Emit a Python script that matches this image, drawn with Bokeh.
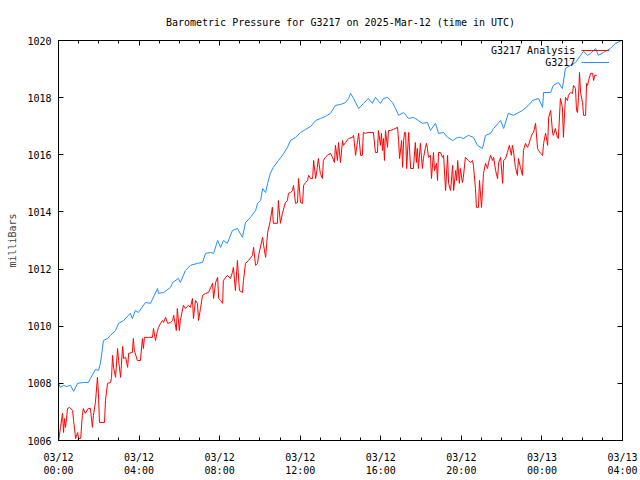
from bokeh.plotting import figure
from bokeh.models import LinearAxis, FixedTicker, Legend, LegendItem, Range1d
from bokeh.embed import file_html
from bokeh.resources import INLINE

FONT = "DejaVu Sans Mono"

# minutes since 2025-03-12 00:00 UTC, pressure in milliBars
blue_min = [0, 6, 15, 24, 36, 45, 57, 74, 89, 95,
            104, 110, 119, 125, 134, 146, 155, 170, 179, 194,
            214, 220, 229, 238, 259, 274, 295, 298, 313, 334,
            340, 357, 363, 378, 393, 414, 429, 438, 453, 462,
            474, 483, 491, 503, 518, 533, 548, 557, 572, 587,
            593, 602, 608, 617, 623, 631, 640, 655, 667, 682,
            691, 706, 721, 736, 751, 766, 780, 795, 810, 825,
            840, 855, 864, 870, 879, 894, 909, 923, 935, 944,
            959, 968, 980, 995, 1004, 1013, 1028, 1043, 1057, 1072,
            1084, 1099, 1108, 1123, 1132, 1147, 1159, 1174, 1189, 1197,
            1206, 1221, 1236, 1248, 1263, 1272, 1287, 1296, 1317, 1326,
            1340, 1355, 1382, 1400, 1412, 1430, 1442, 1445, 1466, 1474,
            1489, 1501, 1510, 1525, 1540, 1555, 1564, 1576, 1585, 1600,
            1608, 1623, 1644, 1659, 1665, 1678]
blue_mb = [1008.00, 1007.86, 1007.93, 1007.89, 1007.93, 1007.72, 1008.00, 1008.03, 1008.03, 1008.17,
           1008.35, 1008.49, 1008.45, 1008.70, 1009.50, 1009.57, 1009.68, 1009.85, 1010.10, 1010.20,
           1010.45, 1010.27, 1010.55, 1010.48, 1010.83, 1010.80, 1011.32, 1011.15, 1011.18, 1011.36,
           1011.53, 1011.67, 1011.53, 1011.95, 1012.13, 1012.20, 1012.23, 1012.55, 1012.58, 1012.55,
           1013.00, 1012.76, 1013.00, 1012.90, 1013.35, 1013.42, 1013.11, 1013.63, 1013.81, 1014.05,
           1014.30, 1014.40, 1014.82, 1014.68, 1015.00, 1015.35, 1015.56, 1015.80, 1015.98, 1016.26,
           1016.50, 1016.61, 1016.78, 1016.89, 1016.99, 1017.20, 1017.27, 1017.34, 1017.45, 1017.73,
           1017.76, 1017.83, 1017.97, 1018.15, 1017.97, 1017.62, 1017.80, 1017.97, 1017.80, 1018.01,
           1017.80, 1017.97, 1018.01, 1017.83, 1017.62, 1017.38, 1017.48, 1017.27, 1017.31, 1017.20,
           1017.10, 1017.13, 1016.85, 1017.10, 1016.75, 1016.78, 1016.61, 1016.50, 1016.61, 1016.61,
           1016.57, 1016.68, 1016.61, 1016.33, 1016.22, 1016.68, 1016.75, 1016.92, 1017.20, 1016.92,
           1017.45, 1017.38, 1017.55, 1017.73, 1017.90, 1017.97, 1017.66, 1018.18, 1018.18, 1018.43,
           1018.53, 1018.32, 1019.02, 1019.13, 1019.23, 1019.48, 1019.62, 1019.48, 1019.55, 1019.72,
           1019.48, 1019.58, 1019.72, 1019.90, 1019.93, 1020.00]

red_min = [0, 6, 12, 15, 18, 21, 27, 33, 42, 45,
           51, 57, 60, 66, 71, 74, 80, 89, 95, 101,
           104, 110, 116, 119, 122, 137, 140, 146, 155, 158,
           161, 164, 170, 176, 179, 185, 191, 194, 200, 206,
           209, 220, 223, 226, 235, 244, 250, 253, 256, 268,
           280, 283, 289, 295, 298, 304, 310, 313, 319, 325,
           334, 340, 343, 351, 354, 360, 363, 372, 378, 387,
           393, 399, 402, 408, 414, 417, 423, 429, 438, 447,
           459, 462, 468, 474, 477, 483, 489, 491, 503, 512,
           518, 521, 527, 533, 539, 548, 551, 557, 566, 578,
           581, 587, 593, 596, 608, 611, 617, 623, 631, 637,
           640, 652, 655, 661, 667, 676, 682, 685, 691, 697,
           700, 706, 712, 715, 721, 727, 730, 736, 742, 745,
           751, 757, 760, 766, 771, 774, 780, 786, 789, 795,
           801, 810, 816, 822, 825, 831, 834, 840, 846, 849,
           855, 864, 876, 879, 885, 891, 894, 900, 905, 908,
           914, 923, 938, 944, 950, 953, 959, 962, 965, 968,
           971, 974, 980, 983, 989, 998, 1010, 1013, 1016, 1022,
           1025, 1028, 1031, 1034, 1037, 1043, 1049, 1057, 1063, 1066,
           1069, 1072, 1078, 1084, 1087, 1093, 1096, 1099, 1102, 1108,
           1111, 1117, 1120, 1126, 1129, 1132, 1138, 1144, 1147, 1153,
           1159, 1162, 1168, 1174, 1177, 1183, 1186, 1189, 1194, 1197,
           1203, 1206, 1212, 1221, 1227, 1233, 1236, 1242, 1245, 1251,
           1254, 1260, 1263, 1266, 1272, 1278, 1281, 1287, 1293, 1296,
           1302, 1308, 1311, 1317, 1323, 1326, 1332, 1337, 1343, 1349,
           1352, 1355, 1361, 1367, 1370, 1376, 1382, 1385, 1391, 1397,
           1400, 1406, 1412, 1415, 1421, 1427, 1430, 1436, 1442, 1445,
           1451, 1457, 1460, 1466, 1472, 1474, 1480, 1486, 1489, 1495,
           1501, 1504, 1510, 1516, 1519, 1525, 1531, 1534, 1540, 1543,
           1546, 1549, 1552, 1555, 1561, 1564, 1570, 1573, 1576, 1579,
           1585, 1591, 1594, 1597, 1603]
red_mb = [1005.95, 1006.46, 1006.95, 1006.28, 1006.77, 1006.46, 1007.12, 1007.16, 1007.05, 1006.70,
          1006.07, 1006.28, 1006.07, 1006.07, 1006.88, 1007.12, 1006.95, 1007.12, 1007.12, 1006.46,
          1006.88, 1007.33, 1008.21, 1007.65, 1006.63, 1006.63, 1007.40, 1008.00, 1008.03, 1008.21,
          1008.98, 1008.56, 1008.21, 1009.22, 1008.80, 1008.21, 1009.29, 1008.87, 1008.91, 1008.56,
          1009.05, 1009.08, 1009.57, 1009.15, 1008.80, 1008.80, 1009.57, 1009.22, 1009.61, 1009.61,
          1009.61, 1009.92, 1009.50, 1009.85, 1009.96, 1010.10, 1010.20, 1010.13, 1010.31, 1010.10,
          1010.13, 1010.20, 1010.38, 1009.85, 1010.62, 1009.85, 1010.20, 1010.73, 1010.62, 1010.73,
          1010.66, 1010.97, 1010.27, 1010.90, 1010.80, 1010.20, 1010.62, 1011.08, 1011.15, 1011.18,
          1011.50, 1010.97, 1011.53, 1011.71, 1010.97, 1010.90, 1010.80, 1011.60, 1011.78, 1011.67,
          1011.88, 1012.06, 1011.25, 1012.30, 1011.25, 1011.18, 1011.60, 1012.20, 1012.30, 1012.48,
          1012.76, 1012.13, 1012.20, 1012.48, 1013.11, 1012.83, 1012.41, 1013.28, 1013.70, 1014.16,
          1013.60, 1013.60, 1014.40, 1013.60, 1013.95, 1014.33, 1014.40, 1014.65, 1014.68, 1014.75,
          1014.93, 1014.30, 1014.33, 1015.17, 1014.33, 1014.30, 1014.93, 1015.03, 1015.10, 1015.28,
          1015.17, 1015.17, 1015.80, 1015.17, 1015.56, 1015.87, 1015.35, 1015.17, 1015.80, 1015.91,
          1015.98, 1016.05, 1015.91, 1015.73, 1016.33, 1015.80, 1016.43, 1015.73, 1016.50, 1016.33,
          1016.43, 1016.57, 1016.61, 1016.68, 1015.98, 1016.50, 1016.75, 1015.98, 1015.98, 1016.78,
          1016.75, 1016.78, 1016.78, 1016.08, 1016.08, 1016.85, 1016.33, 1016.75, 1016.15, 1016.57,
          1015.80, 1016.85, 1016.26, 1016.85, 1016.85, 1016.89, 1016.96, 1016.50, 1015.87, 1016.50,
          1015.56, 1016.50, 1016.78, 1016.78, 1015.52, 1016.78, 1015.52, 1015.52, 1016.43, 1015.73,
          1016.22, 1015.52, 1016.40, 1015.52, 1015.87, 1016.26, 1016.40, 1016.22, 1015.91, 1015.98,
          1015.17, 1016.08, 1015.45, 1015.70, 1015.10, 1016.08, 1016.08, 1015.91, 1015.98, 1014.75,
          1015.98, 1015.00, 1014.75, 1015.63, 1014.75, 1015.45, 1015.10, 1015.80, 1015.00, 1015.52,
          1015.03, 1015.21, 1015.91, 1015.80, 1015.73, 1015.80, 1015.63, 1014.82, 1014.16, 1014.16,
          1015.10, 1014.16, 1014.75, 1015.35, 1015.70, 1015.52, 1015.73, 1015.98, 1015.80, 1015.91,
          1015.45, 1015.17, 1015.73, 1015.91, 1015.00, 1015.80, 1015.87, 1016.08, 1016.33, 1015.98,
          1016.33, 1016.15, 1015.56, 1015.28, 1015.87, 1015.56, 1015.28, 1016.15, 1016.40, 1016.26,
          1016.33, 1016.57, 1016.75, 1016.78, 1017.10, 1016.22, 1016.15, 1016.05, 1015.98, 1016.40,
          1016.75, 1016.33, 1017.31, 1017.55, 1016.75, 1016.68, 1016.92, 1016.61, 1016.57, 1017.97,
          1017.66, 1016.61, 1018.01, 1017.90, 1018.08, 1018.18, 1018.15, 1018.43, 1018.32, 1017.55,
          1017.48, 1018.01, 1018.88, 1018.18, 1017.83, 1017.38, 1017.38, 1018.50, 1018.43, 1018.60,
          1018.85, 1018.85, 1018.60, 1018.78, 1018.78]

x_tick_hours = [0, 4, 8, 12, 16, 20, 24, 28]
x_tick_labels = ["03/12\n00:00", "03/12\n04:00", "03/12\n08:00", "03/12\n12:00",
                 "03/12\n16:00", "03/12\n20:00", "03/13\n00:00", "03/13\n04:00"]
x_minor_hours = list(range(0, 29))
y_ticks = [1006, 1008, 1010, 1012, 1014, 1016, 1018, 1020]

title_text = "Barometric Pressure for G3217 on 2025-Mar-12 (time in UTC)"
legend_labels = ["G3217 Analysis", "         G3217"]
RED = "#ff0000"
BLUE = "#1f8fff"

p = figure(width=640, height=480, output_backend="svg", toolbar_location=None,
           x_range=Range1d(0, 28), y_range=Range1d(1006, 1020),
           x_axis_location=None, y_axis_location=None,
           min_border_left=58, min_border_right=18, min_border_top=40, min_border_bottom=40)
p.grid.visible = False
p.outline_line_color = "black"
p.outline_line_alpha = 1.0
p.outline_line_width = 1
p.background_fill_color = "white"
p.border_fill_color = "white"

p.title.text = title_text
p.title.align = "center"
p.title.text_font = FONT
p.title.text_font_size = "10px"
p.title.text_font_style = "normal"
p.title.text_color = "black"
p.title.standoff = 26


def style_axis(ax):
    ax.axis_line_color = "black"
    ax.major_tick_line_color = "black"
    ax.minor_tick_line_color = "black"
    ax.major_tick_in = 5
    ax.major_tick_out = 0
    ax.minor_tick_in = 3
    ax.minor_tick_out = 0
    ax.major_label_text_font = FONT
    ax.major_label_text_font_size = "10px"
    ax.major_label_text_color = "black"


xb = LinearAxis(ticker=FixedTicker(ticks=x_tick_hours, minor_ticks=x_minor_hours),
                major_label_overrides=dict(zip(x_tick_hours, x_tick_labels)))
style_axis(xb)
xb.major_label_standoff = 11
xt = LinearAxis(ticker=FixedTicker(ticks=x_tick_hours, minor_ticks=x_minor_hours),
                major_label_overrides={t: "" for t in x_tick_hours})
style_axis(xt)
xt.major_label_standoff = 0
yl = LinearAxis(ticker=FixedTicker(ticks=y_ticks, minor_ticks=[]),
                axis_label="milliBars")
style_axis(yl)
yl.major_label_standoff = 7
yl.axis_label_text_font = FONT
yl.axis_label_text_font_size = "10px"
yl.axis_label_text_font_style = "normal"
yl.axis_label_standoff = 6
yr = LinearAxis(ticker=FixedTicker(ticks=y_ticks, minor_ticks=[]),
                major_label_overrides={t: "" for t in y_ticks})
style_axis(yr)
yr.major_label_standoff = 0

p.add_layout(xb, "below")
p.add_layout(xt, "above")
p.add_layout(yl, "left")
p.add_layout(yr, "right")

x_red = [m / 60 for m in red_min]
x_blue = [m / 60 for m in blue_min]
r_red = p.line(x_red, red_mb, line_color=RED, line_width=1)
r_blue = p.line(x_blue, blue_mb, line_color=BLUE, line_width=1)

# reference draws the key sample to the right of a right-aligned label:
# one legend holds the labels (zero-width sample), a second one the samples
common = dict(glyph_height=12, label_height=12, label_standoff=0, padding=0, spacing=0,
              margin=0, border_line_color=None, background_fill_alpha=0,
              label_text_font=FONT, label_text_font_size="10px", label_text_color="black")
leg_text = Legend(items=[LegendItem(label=legend_labels[0], renderers=[r_red]),
                         LegendItem(label=legend_labels[1], renderers=[r_blue])],
                  location=(433, 372), glyph_width=0, **common)
leg_key = Legend(items=[LegendItem(label=" ", renderers=[r_red]),
                        LegendItem(label=" ", renderers=[r_blue])],
                 location=(523, 372), glyph_width=28, **common)
p.add_layout(leg_text)
p.add_layout(leg_key)

open("out.html", "w").write(file_html(p, INLINE))
